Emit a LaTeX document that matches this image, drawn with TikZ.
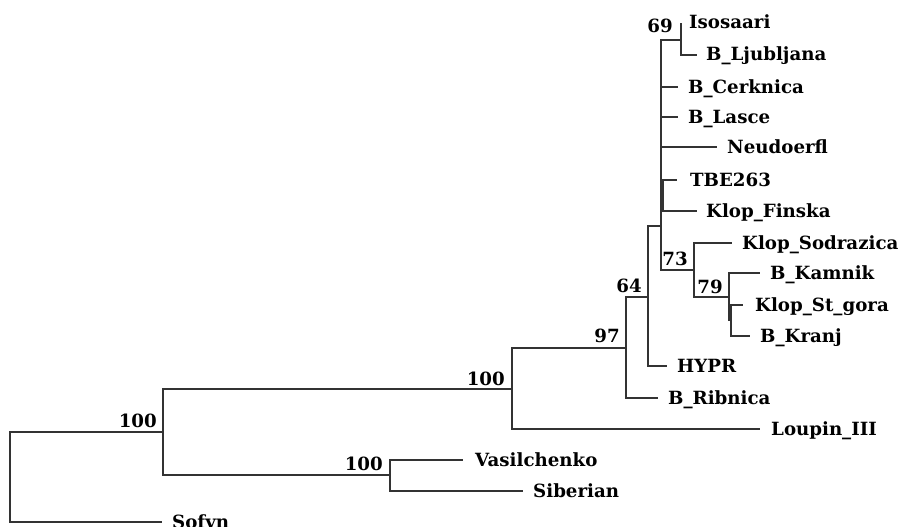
\documentclass[tikz,border=0pt]{standalone}
\usepackage{fontspec}
\setmainfont{DejaVu Serif}
\begin{document}
\begin{tikzpicture}[x=1pt,y=-1pt,
  br/.style={line width=1.4pt, draw=black!80},
  leaf/.style={anchor=base west, inner sep=0pt, font=\fontsize{18.2}{20}\selectfont\bfseries, text=black},
  boot/.style={anchor=base east, inner sep=0pt, font=\fontsize{18.2}{20}\selectfont\bfseries, text=black}]
\useasboundingbox[fill=white] (0,0) rectangle (902,527);
% internal nodes
\coordinate (root) at (10,477);
\coordinate (nA) at (163,432);
\coordinate (nB) at (512,389);
\coordinate (nV) at (390,475);
\coordinate (n97) at (626,348);
\coordinate (n64) at (648,297);
\coordinate (nC) at (661,226);
\coordinate (n69) at (681,40);
\coordinate (nT) at (663,195);
\coordinate (n73) at (694,270);
\coordinate (n79) at (729,297);
\coordinate (nS) at (731,320);
% tips
\coordinate (tSofyn) at (162,522);
\coordinate (tVasil) at (463,460);
\coordinate (tSiber) at (523,491);
\coordinate (tLoupin) at (760,429);
\coordinate (tRib) at (658,398);
\coordinate (tHypr) at (667,366);
\coordinate (tIso) at (681,23);
\coordinate (tLju) at (697,55);
\coordinate (tCer) at (678,87);
\coordinate (tLas) at (678,117);
\coordinate (tNeu) at (717,147);
\coordinate (tTBE) at (677,180);
\coordinate (tFin) at (697,211);
\coordinate (tSod) at (732,243);
\coordinate (tKam) at (760,273);
\coordinate (tStg) at (743,305);
\coordinate (tKra) at (750,336);
% branches
\draw[br] (root) |- (nA);
\draw[br] (root) |- (tSofyn);
\draw[br] (nA) |- (nB);
\draw[br] (nA) |- (nV);
\draw[br] (nV) |- (tVasil);
\draw[br] (nV) |- (tSiber);
\draw[br] (nB) |- (n97);
\draw[br] (nB) |- (tLoupin);
\draw[br] (n97) |- (n64);
\draw[br] (n97) |- (tRib);
\draw[br] (n64) |- (nC);
\draw[br] (n64) |- (tHypr);
\draw[br] (nC) |- (n69);
\draw[br] (nC) |- (tCer);
\draw[br] (nC) |- (tLas);
\draw[br] (nC) |- (tNeu);
\draw[br] (nC) |- (nT);
\draw[br] (nC) |- (n73);
\draw[br] (n69) |- (tIso);
\draw[br] (n69) |- (tLju);
\draw[br] (nT) |- (tTBE);
\draw[br] (nT) |- (tFin);
\draw[br] (n73) |- (tSod);
\draw[br] (n73) |- (n79);
\draw[br] (n79) |- (tKam);
\draw[br] (n79) |- (nS);
\draw[br] (nS) |- (tStg);
\draw[br] (nS) |- (tKra);
% leaf labels
\node[leaf] (lIso) at (689,29) {Isosaari};
\node[leaf] (lLju) at (706,61) {B\_Ljubljana};
\node[leaf] (lCer) at (688,93) {B\_Cerknica};
\node[leaf] (lLas) at (688,123) {B\_Lasce};
\node[leaf] (lNeu) at (727,153) {Neudoerfl};
\node[leaf] (lTBE) at (690,186) {TBE263};
\node[leaf] (lFin) at (706,217) {Klop\_Finska};
\node[leaf] (lSod) at (742,249) {Klop\_Sodrazica};
\node[leaf] (lKam) at (770,279) {B\_Kamnik};
\node[leaf] (lStg) at (755,311) {Klop\_St\_gora};
\node[leaf] (lKra) at (760,342) {B\_Kranj};
\node[leaf] (lHypr) at (677,372) {HYPR};
\node[leaf] (lRib) at (668,404) {B\_Ribnica};
\node[leaf] (lLoupin) at (771,435) {Loupin\_III};
\node[leaf] (lVasil) at (475,466) {Vasilchenko};
\node[leaf] (lSiber) at (533,497) {Siberian};
\node[leaf] (lSofyn) at (172,528) {Sofyn};
% bootstrap values
\node[boot] (b69) at (673,33) {69};
\node[boot] (b73) at (688,265) {73};
\node[boot] (b79) at (723,293) {79};
\node[boot] (b64) at (642,292) {64};
\node[boot] (b97) at (620,342) {97};
\node[boot] (bB) at (505,385) {100};
\node[boot] (bA) at (157,427) {100};
\node[boot] (bV) at (383,470) {100};
\end{tikzpicture}
\end{document}
